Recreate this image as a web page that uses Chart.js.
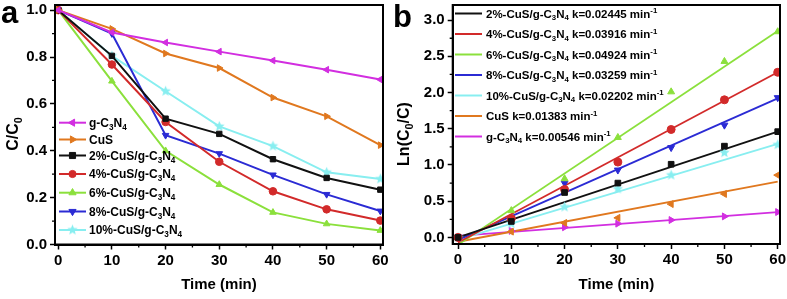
<!DOCTYPE html>
<html><head><meta charset="utf-8">
<script src="https://cdn.jsdelivr.net/npm/chart.js@4.4.0/dist/chart.umd.min.js"></script>
<style>
html,body{margin:0;padding:0;background:#fff;}
#wrap{position:relative;width:787px;height:299px;overflow:hidden;background:#fff;}
#ca{position:absolute;left:0;top:0;}
#cb{position:absolute;left:390px;top:0;}
</style></head><body>
<div id="wrap"><canvas id="ca" width="390" height="299"></canvas><canvas id="cb" width="397" height="299"></canvas></div>
<script>
// ---------- data ----------
const times = [0, 10, 20, 30, 40, 50, 60];
const xTickStep = 10;
const leftYTickStep = 0.2;
const rightYTickStep = 0.5;

const seriesNames = ['g-C_3N_4', 'CuS', '2%-CuS/g-C_3N_4', '4%-CuS/g-C_3N_4', '6%-CuS/g-C_3N_4', '8%-CuS/g-C_3N_4', '10%-CuS/g-C_3N_4'];

// panel a: C/C0
const ratioG   = [1.0, 0.905, 0.862, 0.823, 0.785, 0.746, 0.704];
const ratioCuS = [1.0, 0.920, 0.815, 0.753, 0.627, 0.547, 0.424];
const ratio2   = [1.0, 0.805, 0.537, 0.472, 0.364, 0.284, 0.234];
const ratio4   = [1.0, 0.768, 0.523, 0.353, 0.227, 0.150, 0.102];
const ratio6   = [1.0, 0.697, 0.400, 0.256, 0.137, 0.088, 0.060];
const ratio8   = [1.0, 0.900, 0.466, 0.388, 0.297, 0.214, 0.143];
const ratio10  = [1.0, 0.805, 0.654, 0.504, 0.420, 0.308, 0.280];

// panel b: Ln(C0/C) markers
const lnNames = ['2%-CuS/g-C_3N_4 k=0.02445 min^{-1}', '4%-CuS/g-C_3N_4 k=0.03916 min^{-1}', '6%-CuS/g-C_3N_4 k=0.04924 min^{-1}', '8%-CuS/g-C_3N_4 k=0.03259 min^{-1}', '10%-CuS/g-C_3N_4 k=0.02202 min^{-1}', 'CuS k=0.01383 min^{-1}', 'g-C_3N_4 k=0.00546 min^{-1}'];
const ln2   = [0, 0.22, 0.62, 0.75, 1.01, 1.26, 1.46];
const ln4   = [0, 0.26, 0.66, 1.04, 1.49, 1.90, 2.28];
const ln6   = [0, 0.37, 0.81, 1.38, 2.01, 2.43, 2.84];
const ln8   = [0, 0.26, 0.75, 0.93, 1.24, 1.55, 1.93];
const ln10  = [0, 0.19, 0.42, 0.67, 0.86, 1.17, 1.28];
const lnCuS = [0, 0.08, 0.20, 0.27, 0.46, 0.60, 0.86];
const lnG   = [0, 0.09, 0.14, 0.19, 0.24, 0.29, 0.35];
// fitted lines (value read at t=0 and t=60)
const fitTimes = [0, 60];
const fitAtStart = [0.00, -0.07, -0.10, -0.035, -0.03, -0.06, 0.02];
const fitAtEnd   = [1.46, 2.28, 2.85, 1.92, 1.29, 0.77, 0.35];

// ---------- styles ----------
const FONT = '"Liberation Sans", Arial, sans-serif';
const C = {black:'#111111', red:'#d22a2a', green:'#8be03c', blue:'#2b2bd4', cyan:'#88eef0', orange:'#e0781f', magenta:'#d22ee0'};

function makeStar(color, r){
  const cv = document.createElement('canvas');
  const s = Math.ceil(r*2)+2; cv.width = s; cv.height = s;
  const g = cv.getContext('2d'); g.fillStyle = color; g.beginPath();
  for (let i=0;i<10;i++){ const a = -Math.PI/2 + i*Math.PI/5; const rr = i%2 ? r*0.45 : r;
    g.lineTo(s/2 + Math.cos(a)*rr, s/2 + Math.sin(a)*rr); }
  g.closePath(); g.fill(); return cv;
}
const starL = makeStar(C.cyan, 5.5);
const starR = makeStar(C.cyan, 5.5);

const leftStyles = [
  {c:C.magenta, ps:'triangle', rot:-90},
  {c:C.orange, ps:'triangle', rot:90},
  {c:C.black, ps:'rect', rot:0},
  {c:C.red, ps:'circle', rot:0},
  {c:C.green, ps:'triangle', rot:0},
  {c:C.blue, ps:'triangle', rot:180},
  {c:C.cyan, ps:starL, rot:0}
];
const rightStyles = [
  {c:C.black, ps:'rect', rot:0},
  {c:C.red, ps:'circle', rot:0},
  {c:C.green, ps:'triangle', rot:0},
  {c:C.blue, ps:'triangle', rot:180},
  {c:C.cyan, ps:starR, rot:0},
  {c:C.orange, ps:'triangle', rot:-90},
  {c:C.magenta, ps:'triangle', rot:90}
];

// ---------- helpers ----------
function parseRich(s){
  const segs=[]; let i=0, cur='';
  while(i<s.length){
    const ch=s[i];
    if(ch==='_'){ if(cur){segs.push({t:cur,m:0});cur='';} segs.push({t:s[i+1],m:-1}); i+=2; continue; }
    if(ch==='^' && s[i+1]==='{'){ if(cur){segs.push({t:cur,m:0});cur='';} const e=s.indexOf('}',i); segs.push({t:s.slice(i+2,e),m:1}); i=e+1; continue; }
    cur+=ch; i++;
  }
  if(cur) segs.push({t:cur,m:0});
  return segs;
}
function drawRich(ctx, x, yc, s, size, align){
  const segs=parseRich(s); const small=size*0.68;
  let w=0;
  segs.forEach(g=>{ ctx.font='bold '+(g.m?small:size)+'px '+FONT; g.w=ctx.measureText(g.t).width; w+=g.w; });
  let cx = align==='center' ? x-w/2 : (align==='right' ? x-w : x);
  const base = yc + size*0.36;
  ctx.textAlign='left'; ctx.textBaseline='alphabetic'; ctx.fillStyle='#000';
  segs.forEach(g=>{
    ctx.font='bold '+(g.m?small:size)+'px '+FONT;
    const dy = g.m===-1 ? size*0.24 : (g.m===1 ? -size*0.40 : 0);
    ctx.fillText(g.t, cx, base+dy); cx+=g.w;
  });
}
function drawMarker(ctx, st, x, y, r){
  ctx.save();
  if (st.ps instanceof HTMLCanvasElement){ ctx.drawImage(st.ps, x-st.ps.width/2, y-st.ps.height/2); ctx.restore(); return; }
  ctx.fillStyle=st.c; ctx.strokeStyle=st.c; ctx.lineWidth=1;
  ctx.beginPath();
  if (st.ps==='circle'){ ctx.arc(x,y,r,0,Math.PI*2); }
  else if (st.ps==='rect'){ const h=r*0.85; ctx.rect(x-h,y-h,2*h,2*h); }
  else { const rad=st.rot*Math.PI/180; const rr=r*1.15;
    for(let k=0;k<3;k++){ const a=rad+k*2*Math.PI/3; ctx.lineTo(x+Math.sin(a)*rr, y-Math.cos(a)*rr*1); }
    ctx.closePath(); }
  ctx.fill(); ctx.stroke(); ctx.restore();
}

function decor(cfg){
  return {
    id:'decor'+cfg.id,
    afterDraw(chart){
      const ctx=chart.ctx, a=chart.chartArea, xs=chart.scales.x, ys=chart.scales.y;
      ctx.save();
      // frame
      ctx.strokeStyle='#000'; ctx.lineWidth=2;
      ctx.strokeRect(a.left, a.top, a.right-a.left, a.bottom-a.top);
      // minor ticks
      ctx.lineWidth=1.3; ctx.beginPath();
      cfg.minorX.forEach(v=>{ const px=xs.getPixelForValue(v); ctx.moveTo(px,a.bottom); ctx.lineTo(px,a.bottom+3); });
      cfg.minorY.forEach(v=>{ const py=ys.getPixelForValue(v); ctx.moveTo(a.left,py); ctx.lineTo(a.left-3,py); });
      ctx.stroke();
      // axis titles
      drawRich(ctx, (a.left+a.right)/2, 284, 'Time (min)', 15, 'center');
      ctx.save(); ctx.translate(cfg.yTitleX, cfg.yTitleY); ctx.rotate(-Math.PI/2);
      drawRich(ctx, 0, 0, cfg.yTitle, 16, 'center'); ctx.restore();
      // panel letter
      ctx.font='bold 31px '+FONT; ctx.fillStyle='#000'; ctx.textAlign='left'; ctx.textBaseline='alphabetic';
      ctx.fillText(cfg.letter, cfg.letterX, cfg.letterY);
      // legend
      cfg.legendY.forEach((ly,i)=>{
        const st=cfg.styles[i];
        ctx.strokeStyle=st.c; ctx.lineWidth=2; ctx.beginPath();
        ctx.moveTo(cfg.legX0, ly); ctx.lineTo(cfg.legX1, ly); ctx.stroke();
        if (cfg.legMarkers) drawMarker(ctx, st, (cfg.legX0+cfg.legX1)/2, ly, 3.6);
        drawRich(ctx, cfg.legTextX, ly, cfg.names[i], cfg.legSize, 'left');
      });
      ctx.restore();
    }
  };
}

function axisCommon(){
  return {
    type:'linear',
    grid:{display:true, drawOnChartArea:false, drawTicks:true, tickLength:5, tickColor:'#000', tickWidth:1.5},
    border:{display:true, color:'#000', width:2}
  };
}

// ---------- panel a ----------
const leftSeries = [ratioG, ratioCuS, ratio2, ratio4, ratio6, ratio8, ratio10];
new Chart(document.getElementById('ca'), {
  type:'line',
  data:{ datasets: leftSeries.map((s,i)=>({
    label: seriesNames[i],
    data: times.map((t,j)=>({x:t, y:s[j]})),
    borderColor: leftStyles[i].c, backgroundColor: leftStyles[i].c,
    borderWidth: 2, tension: 0,
    pointStyle: leftStyles[i].ps, rotation: leftStyles[i].rot,
    pointRadius: 3.8, pointBorderWidth: 1, pointBackgroundColor: leftStyles[i].c, pointBorderColor: leftStyles[i].c
  })) },
  options:{
    responsive:false, animation:false, devicePixelRatio:1,
    layout:{padding:{left:0, right:7, top:2, bottom:0}},
    plugins:{legend:{display:false}, tooltip:{enabled:false}},
    scales:{
      x: Object.assign(axisCommon(), {
        min:-0.6, max:60.5,
        ticks:{stepSize:xTickStep, includeBounds:false, color:'#000', padding:2, maxRotation:0, font:{family:FONT, size:15, weight:'bold'}},
        afterFit(s){ s.height=54.5; s.paddingLeft=0; s.paddingRight=0; }
      }),
      y: Object.assign(axisCommon(), {
        min:0, max:1.022,
        ticks:{stepSize:leftYTickStep, includeBounds:false, color:'#000', padding:3, font:{family:FONT, size:15, weight:'bold'}, callback:v=>Number(v).toFixed(1)},
        afterFit(s){ s.width=55; s.paddingTop=0; s.paddingBottom=0; }
      })
    }
  },
  plugins:[decor({id:'a', minorX:[5,15,25,35,45,55], minorY:[0.1,0.3,0.5,0.7,0.9],
    yTitle:'C/C_0', yTitleX:12, yTitleY:134, letter:'a', letterX:1, letterY:23,
    legendY:[122.7,139.5,155.5,174,192.7,211.5,230], styles:leftStyles, names:seriesNames,
    legX0:59, legX1:86, legTextX:89, legMarkers:true, legSize:12})]
});

// ---------- panel b ----------
const rightSeries = [ln2, ln4, ln6, ln8, ln10, lnCuS, lnG];
const markerSets = rightSeries.map((s,i)=>({
  label: lnNames[i],
  data: times.map((t,j)=>({x:t, y:s[j]})),
  showLine:false, borderColor: rightStyles[i].c, backgroundColor: rightStyles[i].c,
  pointStyle: rightStyles[i].ps, rotation: rightStyles[i].rot,
  pointRadius: 4, pointBorderWidth: 1, pointBackgroundColor: rightStyles[i].c, pointBorderColor: rightStyles[i].c
}));
const fitSets = rightSeries.map((s,i)=>({
  label: lnNames[i]+' fit',
  data: fitTimes.map((t,j)=>({x:t, y: j===0 ? fitAtStart[i] : fitAtEnd[i]})),
  borderColor: rightStyles[i].c, borderWidth: 1.8, pointRadius: 0, tension: 0
}));
new Chart(document.getElementById('cb'), {
  type:'line',
  data:{ datasets: markerSets.concat(fitSets) },
  options:{
    responsive:false, animation:false, devicePixelRatio:1,
    layout:{padding:{left:0, right:7, top:2, bottom:0}},
    plugins:{legend:{display:false}, tooltip:{enabled:false}},
    scales:{
      x: Object.assign(axisCommon(), {
        min:-1.0, max:60.43,
        ticks:{stepSize:xTickStep, includeBounds:false, color:'#000', padding:2, maxRotation:0, font:{family:FONT, size:15, weight:'bold'}},
        afterFit(s){ s.height=55; s.paddingLeft=0; s.paddingRight=0; }
      }),
      y: Object.assign(axisCommon(), {
        min:-0.091, max:3.209,
        ticks:{stepSize:rightYTickStep, includeBounds:false, color:'#000', padding:3, font:{family:FONT, size:15, weight:'bold'}, callback:v=>Number(v).toFixed(1)},
        afterFit(s){ s.width=62.7; s.paddingTop=0; s.paddingBottom=0; }
      })
    }
  },
  plugins:[decor({id:'b', minorX:[5,15,25,35,45,55], minorY:[0.25,0.75,1.25,1.75,2.25,2.75],
    yTitle:'Ln(C_0/C)', yTitleX:13, yTitleY:134, letter:'b', letterX:3, letterY:26.5,
    legendY:[13.5,34,54.5,75,95.5,116,136.5], styles:rightStyles, names:lnNames,
    legX0:65, legX1:92, legTextX:96, legMarkers:false, legSize:11.5})]
});
</script>
</body></html>
